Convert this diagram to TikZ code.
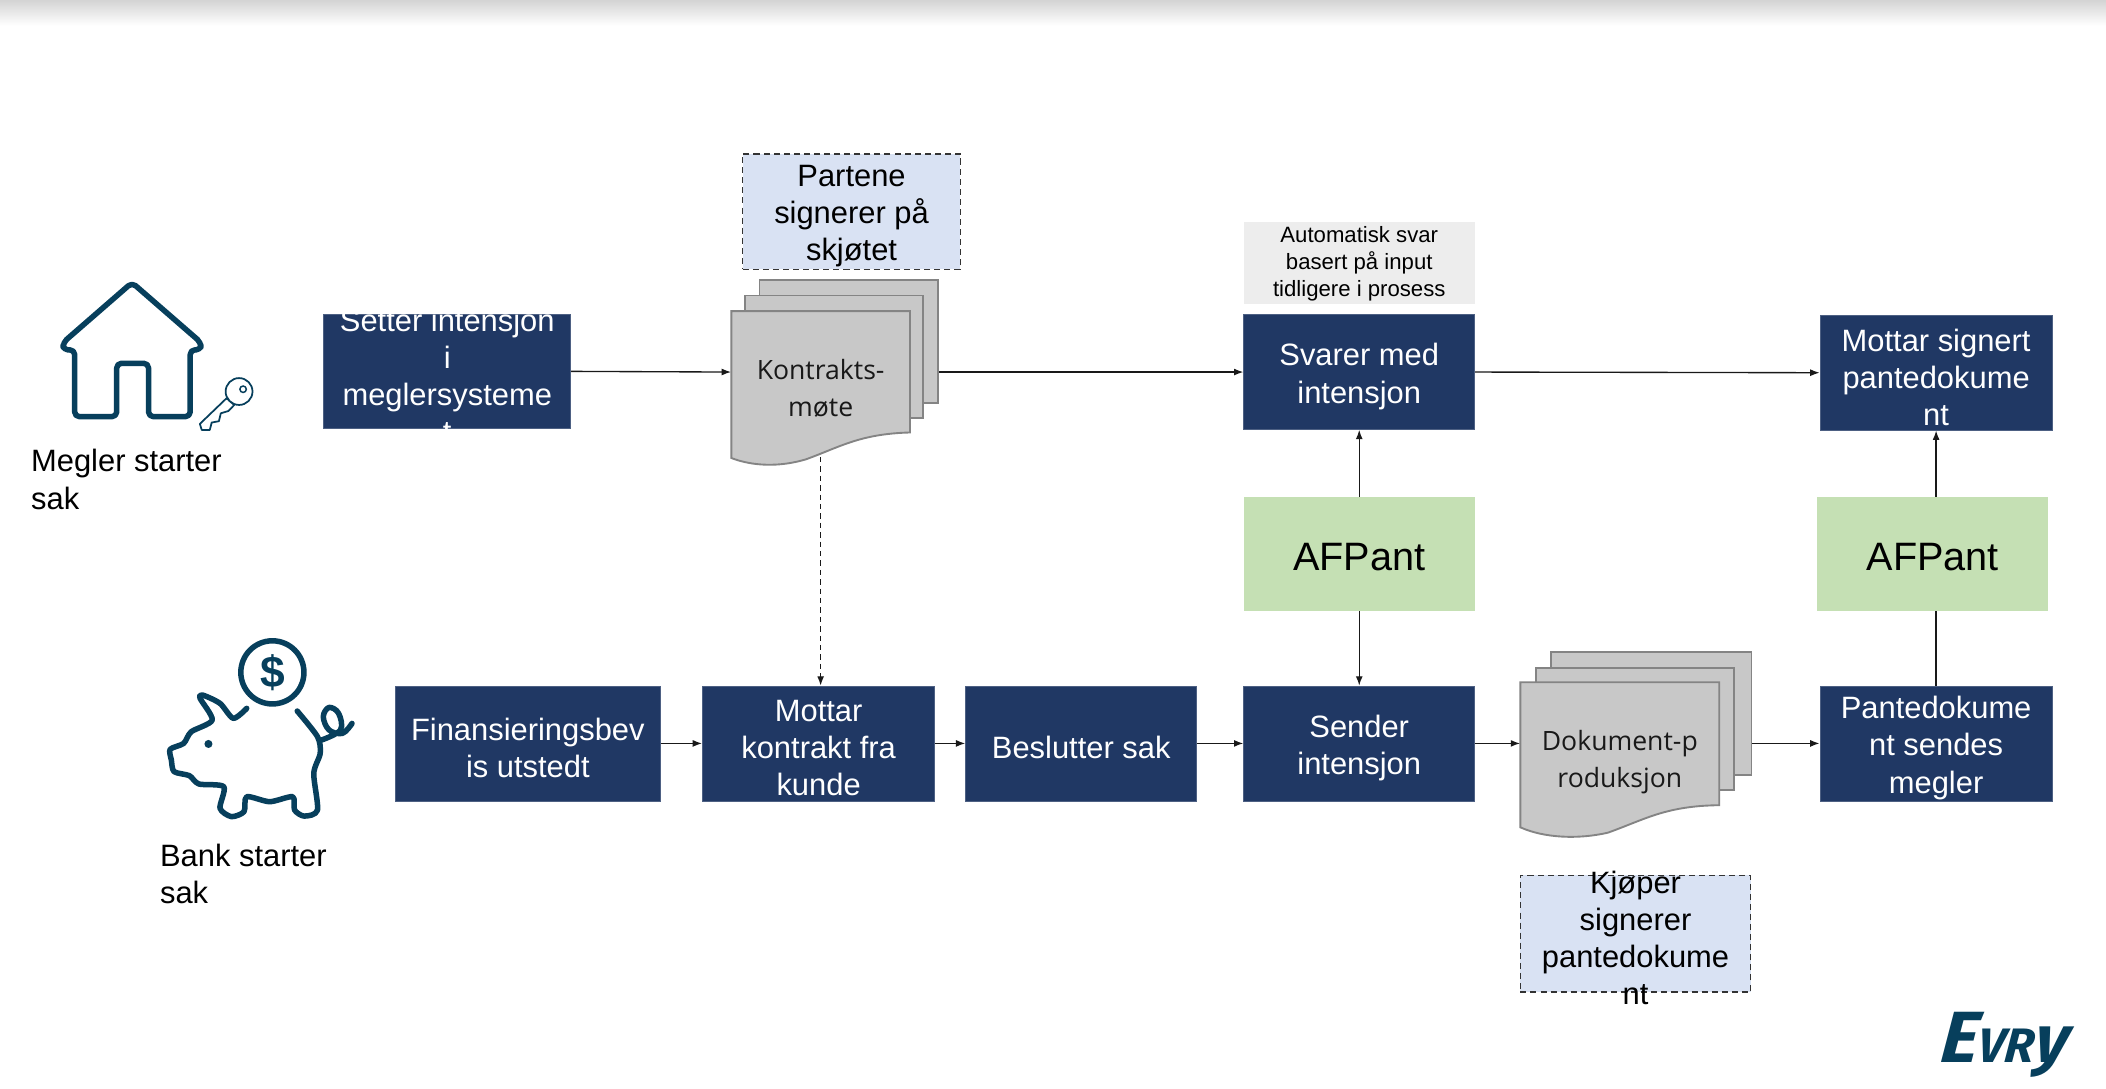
\documentclass[tikz,border=0pt]{standalone}
\usepackage{fontspec}
\setmainfont{Liberation Sans}
\newfontfamily\docfont{Open Sans}
\newfontfamily\logofont{Fira Sans}
\usetikzlibrary{arrows.meta,calc}
\definecolor{navy}{HTML}{203864}
\definecolor{signblue}{HTML}{D9E2F3}
\definecolor{afgreen}{HTML}{C5E0B4}
\definecolor{notegray}{HTML}{EDEDED}
\definecolor{docgray}{HTML}{C8C8C8}
\definecolor{docline}{HTML}{848484}
\definecolor{iconblue}{HTML}{073F5C}
\newcommand{\mainsize}{\fontsize{23}{27.7}\selectfont}
\newcommand{\boxwithtext}[5]{\node[#1,minimum width=#2pt] (#3) at (#4) {};\node[#1text] (#3text) at (#3) {#5};}
\tikzset{
  x=1pt,y=-1pt,
  boxtext/.style={align=center,inner sep=0pt,font=\mainsize,yshift=-3.3pt},
  procbox/.style={fill=navy,draw=navy!80!white,line width=0.5pt,inner sep=0pt,minimum height=85.5pt},
  procboxtext/.style={boxtext,text=white},
  signbox/.style={fill=signblue,draw=black!80,dash pattern=on 4.5pt off 3pt,line width=1.1pt,inner sep=0pt,minimum height=86pt},
  signboxtext/.style={boxtext},
  greenbox/.style={fill=afgreen,inner sep=0pt,minimum height=85pt},
  greenboxtext/.style={inner sep=0pt,font=\fontsize{29.5}{34}\selectfont,yshift=-2.5pt},
  notebox/.style={fill=notegray,inner sep=0pt,minimum height=61pt},
  noteboxtext/.style={align=center,inner sep=0pt,font=\fontsize{16.5}{19.9}\selectfont,yshift=-1pt},
  sheet/.style={fill=docgray,draw=docline,line width=1.4pt,inner sep=0pt},
  doclabel/.style={font=\docfont\fontsize{19.8}{27.3}\selectfont,align=center,inner sep=0pt,text=black!90},
  flow/.style={line width=1pt,draw=black!90,-{Latex[length=7pt,width=5.2pt]}},
  plainflow/.style={line width=1pt,draw=black!90},
  icon/.style={draw=iconblue,line width=4.1pt,line cap=round,line join=round},
  startlabel/.style={align=left,inner sep=0pt,anchor=north west,font=\mainsize},
}
\begin{document}
\begin{tikzpicture}
\useasboundingbox (0,0) rectangle (1568,810.8);
\fill[white] (0,0) rectangle (1568,810.8);
\shade[top color=black!17,bottom color=white] (0,0) rectangle (1568,19);

% house icon
\draw[icon,rounded corners=3.5pt] (55.6,260.5) -- (47,260.5) -- (47,255) -- (98.3,210.4) -- (149.6,255) -- (149.6,260.5) -- (141.6,260.5) -- (141.6,310.2) -- (110.6,310.2) -- (110.6,270.5) -- (86.9,270.5) -- (86.9,310.2) -- (55.6,310.2) -- cycle;
% key
\draw[draw=iconblue,line width=1.3pt,line join=round,fill=white] (168.7,296.5) -- (148.8,315.6) -- (150.2,320.1) -- (156.2,320.1) -- (157.6,314.6) -- (163,313.6) -- (164.4,307.7) -- (170.1,306) -- (174.4,301.5) -- cycle;
\draw[draw=iconblue,line width=1.3pt,fill=white] (178,291.5) circle[radius=10];
\draw[draw=iconblue,line width=1.1pt] (181,289.8) circle[radius=2.4];
\node[startlabel] (meglerlabel) at (23,334.5) {Megler starter\\sak};

% piggy bank icon
\draw[icon] (202.8,500.6) circle[radius=23.5];
\node[inner sep=0pt,text=iconblue,font=\bfseries\fontsize{33}{33}\selectfont] (dollar) at (202.8,500.6) {\$};
\draw[icon] plot[smooth,tension=0.45] coordinates {(183.7,527.4) (173.7,534.8) (163.8,523.7) (150.9,517.5) (149,520) (158,536.1) (142.4,544.8) (136.7,553.5) (126.7,557.9) (127.6,565.9) (129.6,574.5) (141,577.5) (148.1,583.7) (166.6,585.7) (163.8,601.8) (172.3,608) (181.7,604.3) (183.7,593.2) (200.8,596.9) (217.9,593.2) (219.3,603.1) (226.5,607.6) (236.4,603.1) (233.6,575.8) (238.4,560.9) (236.4,548.5) (221.3,529.4)};
\draw[icon] plot[smooth,tension=0.6] coordinates {(239.3,551) (253.5,543.5) (252.1,531.1) (245,526.7) (240.7,533.6) (245,543.5) (255,546) (262.1,538.6)};
\fill[iconblue] (155.2,553.9) circle[radius=3];
\node[startlabel] (banklabel) at (119,628) {Bank starter\\sak};

% top row
\node[procbox,minimum width=184pt] (setter) at (333,276.5) {};
\begin{scope}
\clip (241,234) rectangle (425,319);
\node[procboxtext] (settertext) at (setter) {Setter intensjon\\i\\meglersysteme\\t};
\end{scope}
\boxwithtext{procbox}{172}{svarer}{1012,277}{Svarer med\\intensjon}
\boxwithtext{procbox}{173}{mottarpant}{1441.5,277.5}{Mottar signert\\pantedokume\\nt}
\boxwithtext{signbox}{162}{partene}{634,157.5}{Partene\\signerer på\\skjøtet}
\boxwithtext{notebox}{172}{auto}{1012,195.5}{Automatisk svar\\basert på input\\tidligere i prosess}

% contract stack
\node[sheet,minimum width=133pt,minimum height=91.5pt] (k3) at (632,254.2) {};
\node[sheet,minimum width=133pt,minimum height=91pt] (k2) at (621,265.5) {};
\draw[sheet] (544.5,231.6) -- (677.5,231.6) -- (677.5,322) .. controls (640,323) and (625,333) .. (600,342) .. controls (580,348) and (560,347) .. (544.5,341) -- cycle;
\node[doclabel,minimum width=133pt,minimum height=108pt,text depth=0pt] (k1) at (611,286) {};
\node[doclabel,yshift=-3.3pt] (k1text) at (k1) {Kontrakts-\\møte};

% bottom row
\boxwithtext{procbox}{198}{finans}{393,553.5}{Finansieringsbev\\is utstedt}
\boxwithtext{procbox}{173}{mottarkontrakt}{609.5,553.5}{Mottar\\kontrakt fra\\kunde}
\boxwithtext{procbox}{172}{beslutter}{805,553.5}{Beslutter sak}
\boxwithtext{procbox}{172}{sender}{1012,553.5}{Sender\\intensjon}
\boxwithtext{procbox}{173}{sendes}{1441.5,553.5}{Pantedokume\\nt sendes\\megler}

% document stack
\node[sheet,minimum width=149pt,minimum height=91.5pt] (d3) at (1229.5,531.2) {};
\node[sheet,minimum width=147.5pt,minimum height=91pt] (d2) at (1217.5,543) {};
\draw[sheet] (1132,508) -- (1280,508) -- (1280,599.5) .. controls (1240,600) and (1225,610) .. (1197,620) .. controls (1175,625) and (1150,624) .. (1132,616) -- cycle;
\node[doclabel,minimum width=148pt,minimum height=114pt] (d1) at (1206,565) {};
\node[doclabel,yshift=-2.5pt] (d1text) at (d1) {Dokument-p\\roduksjon};

\node[signbox,minimum width=171.5pt,minimum height=86.8pt] (kjoper) at (1217.7,695.1) {};
\node[signboxtext] (kjopertext) at (kjoper) {Kjøper\\signerer\\pantedokume\\nt};

% AFPant
\boxwithtext{greenbox}{172}{af1}{1012,412.5}{AFPant}
\boxwithtext{greenbox}{172}{af2}{1439,412.5}{AFPant}

% connectors
\draw[flow] (setter.east) -- (k1.west |- svarer.west);
\draw[flow] (k3.east |- svarer.west) -- (svarer.west);
\draw[flow] (svarer.east) -- (mottarpant.west);
\draw[flow,dash pattern=on 4pt off 3pt] (k1.south) -- (k1.south |- mottarkontrakt.north);
\draw[flow] (finans.east) -- (mottarkontrakt.west);
\draw[flow] (mottarkontrakt.east) -- (beslutter.west);
\draw[flow] (beslutter.east) -- (sender.west);
\draw[flow] (sender.east) -- (sender.east -| d1.west);
\draw[flow] (d3.east |- sendes.west) -- (sendes.west);
\draw[flow] (af1.north) -- (svarer.south);
\draw[flow] (af1.south) -- (sender.north);
\draw[flow] (af2.north -| mottarpant.south) -- (mottarpant.south);
\draw[plainflow] (sendes.north) -- (sendes.north |- af2.south);

% logo
\node[inner sep=0pt,text=iconblue,transform shape,xslant=0.12] (evry) at (1493,778) {\logofont\bfseries\itshape\fontsize{54}{54}\selectfont E\fontsize{36}{36}\selectfont VR\fontsize{50}{50}\selectfont y};
\end{tikzpicture}
\end{document}
